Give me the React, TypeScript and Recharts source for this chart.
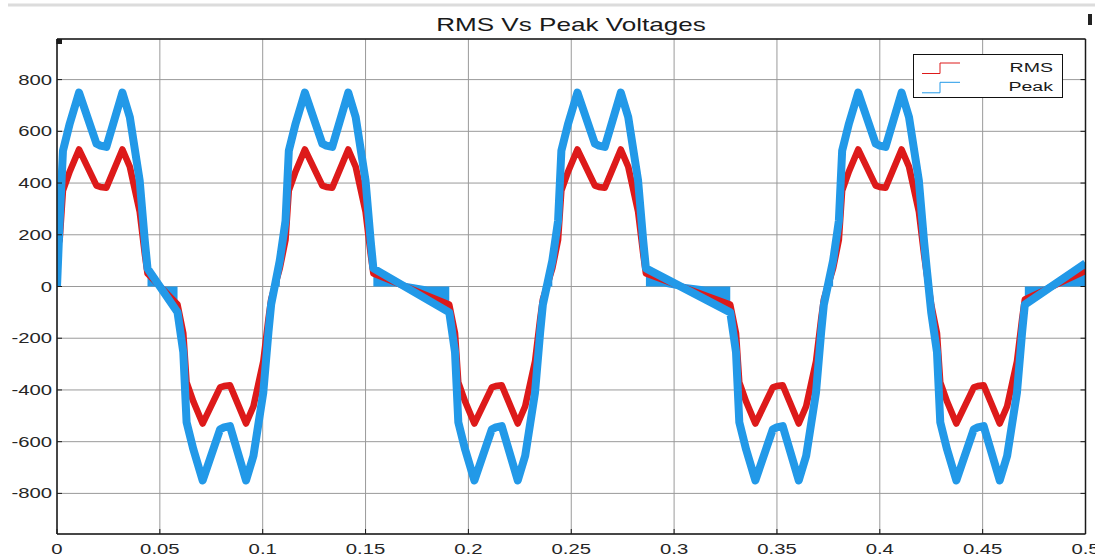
import {
  ComposedChart,
  Line,
  Area,
  XAxis,
  YAxis,
  CartesianGrid,
  Legend,
} from "recharts";

// sample times (s), one row per hump: + - + - + - + -, then the last point
const time = [
  0, 0.0013, 0.0029, 0.0062, 0.0107, 0.0192, 0.0211, 0.024, 0.0318, 0.0354, 0.0402, 0.0427, 0.044,
  0.0586, 0.0614, 0.063, 0.0663, 0.0708, 0.0793, 0.0812, 0.0841, 0.0919, 0.0955, 0.1003, 0.1028, 0.1041,
  0.1083, 0.1111, 0.1127, 0.116, 0.1205, 0.129, 0.1309, 0.1338, 0.1416, 0.1452, 0.15, 0.1525, 0.1538,
  0.1907, 0.1935, 0.1951, 0.1984, 0.2029, 0.2114, 0.2133, 0.2162, 0.224, 0.2276, 0.2324, 0.2349, 0.2362,
  0.2408, 0.2436, 0.2452, 0.2485, 0.253, 0.2615, 0.2634, 0.2663, 0.2741, 0.2777, 0.2825, 0.285, 0.2863,
  0.3273, 0.3301, 0.3317, 0.335, 0.3395, 0.348, 0.3499, 0.3528, 0.3606, 0.3642, 0.369, 0.3715, 0.3728,
  0.3773, 0.3801, 0.3817, 0.385, 0.3895, 0.398, 0.3999, 0.4028, 0.4106, 0.4142, 0.419, 0.4215, 0.4228,
  0.425, 0.4278, 0.4294, 0.4327, 0.4372, 0.4457, 0.4476, 0.4505, 0.4583, 0.4619, 0.4667, 0.4692, 0.4705,
  0.5,
];

const peak = [
  0, 254, 525, 630, 750, 552, 545, 540, 750, 655, 409, 176, 70,
  -100, -254, -525, -630, -750, -552, -545, -540, -750, -655, -409, -176, -70,
  100, 254, 525, 630, 750, 552, 545, 540, 750, 655, 409, 176, 70,
  -100, -254, -525, -630, -750, -552, -545, -540, -750, -655, -409, -176, -70,
  100, 254, 525, 630, 750, 552, 545, 540, 750, 655, 409, 176, 70,
  -100, -254, -525, -630, -750, -552, -545, -540, -750, -655, -409, -176, -70,
  100, 254, 525, 630, 750, 552, 545, 540, 750, 655, 409, 176, 70,
  -100, -254, -525, -630, -750, -552, -545, -540, -750, -655, -409, -176, -70,
  90,
];

const rms = [
  150, 180, 371, 445, 530, 390, 385, 382, 530, 463, 289, 124, 50,
  -70, -180, -371, -445, -530, -390, -385, -382, -530, -463, -289, -124, -50,
  70, 180, 371, 445, 530, 390, 385, 382, 530, 463, 289, 124, 50,
  -70, -180, -371, -445, -530, -390, -385, -382, -530, -463, -289, -124, -50,
  70, 180, 371, 445, 530, 390, 385, 382, 530, 463, 289, 124, 50,
  -70, -180, -371, -445, -530, -390, -385, -382, -530, -463, -289, -124, -50,
  70, 180, 371, 445, 530, 390, 385, 382, 530, 463, 289, 124, 50,
  -70, -180, -371, -445, -530, -390, -385, -382, -530, -463, -289, -124, -50,
  60,
];

// switching ripple around each zero crossing (low / high edge of the band)
const bandTime = [
  0.044, 0.049, 0.0586,
  0.1041, 0.106, 0.1083,
  0.1538, 0.165, 0.18, 0.1907,
  0.2362, 0.2385, 0.2408,
  0.2863, 0.295, 0.315, 0.3273,
  0.3728, 0.375, 0.3773,
  0.4228, 0.424, 0.425,
  0.4705, 0.48, 0.5,
];
const bandLow = [
  0, 0, -100,
  -70, 0, 0,
  0, 0, -30, -100,
  -70, 0, 0,
  0, 0, -30, -100,
  -70, 0, 0,
  0, 0, -100,
  -70, 0, 0,
];
const bandHigh = [
  70, 0, 0,
  0, 0, 100,
  70, 20, 0, 0,
  0, 0, 100,
  70, 20, 0, 0,
  0, 0, 100,
  70, 0, 0,
  0, 0, 90,
];

const seriesOrder = ["RMS", "Peak"];
const xTicks = [0, 0.05, 0.1, 0.15, 0.2, 0.25, 0.3, 0.35, 0.4, 0.45, 0.5];
const yTicks = [-800, -600, -400, -200, 0, 200, 400, 600, 800];

const RED = "#dd1a1a";
const BLUE = "#2299e8";
const FONT = '"Liberation Sans", Arial, Helvetica, sans-serif';
const SX = 1.45; // text in this figure is stretched horizontally

type Row = { t: number; peak?: number; rms?: number; band?: [number, number] };

function buildRows(): Row[] {
  const byTime = new Map<string, Row>();
  const rowAt = (t: number) => {
    const k = t.toFixed(4);
    let r = byTime.get(k);
    if (!r) {
      r = { t };
      byTime.set(k, r);
    }
    return r;
  };
  time.forEach((t, i) => {
    const r = rowAt(t);
    r.peak = peak[i];
    r.rms = rms[i];
  });
  bandTime.forEach((t, i) => {
    rowAt(t).band = [bandLow[i], bandHigh[i]];
  });
  return [...byTime.values()].sort((a, b) => a.t - b.t);
}

const rows = buildRows();

function YTick({ x, y, payload }: any) {
  return (
    <text
      transform={`translate(${x},${y}) scale(${SX},1)`}
      dy="0.36em"
      textAnchor="end"
      fontSize={14}
      fontFamily={FONT}
      fill="#262626"
    >
      {String(payload.value)}
    </text>
  );
}

function XTick({ x, y, payload }: any) {
  return (
    <text
      transform={`translate(${x},${y}) scale(${SX},1)`}
      textAnchor="middle"
      fontSize={14}
      fontFamily={FONT}
      fill="#262626"
    >
      {String(payload.value)}
    </text>
  );
}

const NoTick = () => null;

function StepLegend({ payload }: any) {
  const items = (payload || [])
    .filter((p: any) => p.type !== "none")
    .sort((a: any, b: any) => seriesOrder.indexOf(a.value) - seriesOrder.indexOf(b.value));
  return (
    <svg width={150} height={44} style={{ display: "block" }}>
      <rect x={0.5} y={0.5} width={149} height={43} fill="#fff" stroke="#111" />
      {items.map((p: any, i: number) => {
        const low = 19.5 + i * 19.3;
        const high = low - 10.5;
        return (
          <g key={p.value}>
            <polyline
              points={`9,${low} 27,${low} 27,${high} 47,${high}`}
              fill="none"
              stroke={p.color}
              strokeWidth={1}
            />
            <text
              transform={`translate(140,${low - 1.5}) scale(${SX},1)`}
              textAnchor="end"
              fontSize={13.5}
              fontFamily={FONT}
              fill="#1a1a1a"
            >
              {p.value}
            </text>
          </g>
        );
      })}
    </svg>
  );
}

export default function App() {
  return (
    <div style={{ position: "absolute", left: 0, top: 0, width: 1095, height: 558, background: "#fff" }}>
      <ComposedChart
        width={1095}
        height={558}
        data={rows}
        margin={{ top: 38, right: 0, bottom: 0, left: 0 }}
      >
        <CartesianGrid stroke="#9a9a9a" strokeWidth={1} />
        <XAxis
          dataKey="t"
          type="number"
          domain={[0, 0.5]}
          ticks={xTicks}
          interval={0}
          height={24}
          tickSize={-5}
          tickMargin={25}
          tick={<XTick />}
          axisLine={{ stroke: "#1a1a1a", strokeWidth: 1.5 }}
          tickLine={{ stroke: "#1a1a1a" }}
          allowDataOverflow
        />
        <XAxis
          xAxisId="top"
          orientation="top"
          type="number"
          domain={[0, 0.5]}
          ticks={xTicks}
          interval={0}
          height={1}
          tickSize={-5}
          tick={NoTick}
          axisLine={{ stroke: "#1a1a1a", strokeWidth: 1.5 }}
          tickLine={{ stroke: "#1a1a1a" }}
          allowDataOverflow
        />
        <YAxis
          type="number"
          domain={[-957, 957]}
          ticks={yTicks}
          interval={0}
          width={57}
          tickSize={-5}
          tickMargin={10}
          tick={<YTick />}
          axisLine={{ stroke: "#1a1a1a", strokeWidth: 1.5 }}
          tickLine={{ stroke: "#1a1a1a" }}
          allowDataOverflow
        />
        <YAxis
          yAxisId="r"
          orientation="right"
          type="number"
          domain={[-957, 957]}
          ticks={yTicks}
          interval={0}
          width={9.5}
          tickSize={-5}
          tick={NoTick}
          axisLine={{ stroke: "#1a1a1a", strokeWidth: 1.5 }}
          tickLine={{ stroke: "#1a1a1a" }}
          allowDataOverflow
        />
        <Line
          name="RMS"
          dataKey="rms"
          type="linear"
          stroke={RED}
          strokeWidth={6.5}
          strokeLinejoin="round"
          dot={false}
          activeDot={false}
          connectNulls
          isAnimationActive={false}
        />
        <Area
          dataKey="band"
          type="linear"
          stroke="none"
          fill={BLUE}
          fillOpacity={1}
          legendType="none"
          dot={false}
          activeDot={false}
          isAnimationActive={false}
        />
        <Line
          name="Peak"
          dataKey="peak"
          type="linear"
          stroke={BLUE}
          strokeWidth={8}
          strokeLinejoin="round"
          dot={false}
          activeDot={false}
          connectNulls
          isAnimationActive={false}
        />
        <Legend
          layout="vertical"
          align="center"
          verticalAlign="middle"
          content={<StepLegend />}
          wrapperStyle={{ left: 913, top: 54, width: 150, height: 44 }}
        />
      </ComposedChart>
      <svg
        width={1095}
        height={558}
        style={{ position: "absolute", left: 0, top: 0, pointerEvents: "none" }}
      >
        <line x1={8} x2={1095} y1={5} y2={5} stroke="#dcdcdc" strokeWidth={3} />
        <text
          transform={`translate(571,31) scale(${SX},1)`}
          textAnchor="middle"
          fontSize={18}
          fontFamily={FONT}
          fill="#1a1a1a"
        >
          RMS Vs Peak Voltages
        </text>
        <rect x={1088} y={14} width={4} height={11} fill="#222" />
      </svg>
    </div>
  );
}
